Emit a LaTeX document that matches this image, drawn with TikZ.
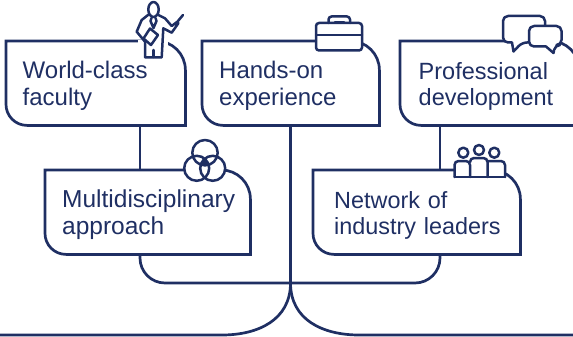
\documentclass[tikz,border=0pt]{standalone}
\usepackage{fontspec}
\setmainfont{Liberation Sans}
\definecolor{navy}{HTML}{1F2F63}
\tikzset{
  line/.style={draw=navy, line width=2.7pt},
  thin/.style={draw=navy, line width=2.5pt, line cap=round, line join=round},
  panel/.style={inner ysep=0pt, align=left, text=navy, anchor=north west,
    font=\fontsize{24}{26.5}\selectfont,
    execute at begin node={\rule{0pt}{23pt}}},
  icon/.style={thin, fill=white}
}
\newcommand{\outline}[2]{
  \draw[line] (#1.north west)
    [rounded corners=#2pt] -- (#1.north east)
    [sharp corners] -- (#1.south east)
    [rounded corners=21pt] -- (#1.south west)
    [sharp corners] -- cycle;
}
\begin{document}
\begin{tikzpicture}[x=1pt, y=-1pt]
  \useasboundingbox (0,0) rectangle (573,337);

  \node[panel, minimum height=84pt, text width=146pt, inner xsep=16.5pt] (faculty) at (6,41) {World-class\\faculty};
  \node[panel, minimum height=84pt, text width=143pt, inner xsep=17pt] (handson) at (202,41) {Hands-on\\experience};
  \node[panel, minimum height=84pt, text width=142pt, inner xsep=18.5pt, font=\fontsize{23.5}{26.5}\selectfont] (career) at (400,41) {Professional\\development};
  \node[panel, minimum height=84pt, text width=171pt, inner xsep=17pt, font=\fontsize{24.5}{26.5}\selectfont] (multi) at (45,170) {\mbox{Multidisciplinary}\\approach};
  \node[panel, minimum height=84pt, text width=165pt, inner xsep=21pt, font=\fontsize{23.4}{26.5}\selectfont] (network) at (313,170) {Network of\\\mbox{industry leaders}};

  \coordinate (joint) at (290.5,283);
  \coordinate (baseL) at (0,335);
  \coordinate (baseR) at (573,335);
  \coordinate (curveL) at (222,335);
  \coordinate (curveR) at (359,335);

  \outline{faculty}{29}
  \outline{handson}{29}
  \outline{career}{29}
  \outline{multi}{29}
  \outline{network}{29}

  \draw[line] (handson.south -| joint) -- (joint);
  \draw[line] (faculty.south -| 140,0) -- (multi.north -| 140,0);
  \draw[line] (career.south -| 440,0) -- (network.north -| 440,0);
  \draw[line, rounded corners=25pt] (multi.south -| 140,0) -- (140,283) -- (joint);
  \draw[line, rounded corners=25pt] (network.south -| 440,0) -- (440,283) -- (joint);
  \draw[line] (baseL) -- (curveL) .. controls (258,335) and (290.5,320) .. (joint);
  \draw[line] (baseR) -- (curveR) .. controls (323,335) and (290.5,320) .. (joint);

  \fill[white] (138,40) rectangle (168,60);
  \draw[icon] (148,15) -- (141.7,20) -- (136.7,31.7) -- (145,41.7) -- (145,57.3) -- (161.7,57.3) -- (163.3,28.3) -- (171.7,32.7) -- (178.3,23.3) -- (177.3,21.7) -- (171.7,26) -- (165,18.3) -- (158.3,15) -- cycle;
  \draw[thin] (178,21) -- (183,15);
  \draw[thin] (153.5,50) -- (153.5,57);
  \draw[thin] (151.5,18) -- (150.5,21) -- (153.5,28) -- (156.5,21) -- (155.5,18);
  \draw[icon] (153.5,9.5) ellipse (5.2 and 7.5);
  \draw[icon] (150,28.5) -- (158,35) -- (151,45) -- (143.5,38.5) -- cycle;

  \draw[icon, rounded corners=3pt] (316,23) rectangle (362,50.5);
  \draw[thin] (316,35) -- (362,35);
  \draw[thin, rounded corners=3pt] (328.5,23) -- (328.5,16.5) -- (350,16.5) -- (350,23);
  \draw[thin] (335,22) -- (344,22);

  \draw[icon, rounded corners=5pt] (503,16) -- (545,16) -- (545,42.5) -- (522,42.5) [sharp corners] -- (513.5,51.5) -- (512,42.5) [rounded corners=5pt] -- (503,42.5) -- cycle;
  \draw[icon, rounded corners=5pt] (529,26) -- (561.5,26) -- (561.5,45) -- (555,45) [sharp corners] -- (553.5,53) -- (546,46.5) [rounded corners=5pt] -- (529,46.5) -- cycle;

  \fill[white] (184,150) rectangle (226,182);
  \begin{scope}
    \clip (205,152.7) circle (12.7);
    \clip (196.7,168.3) circle (12.5);
    \fill[navy] (212.7,168.3) circle (12.5);
  \end{scope}
  \draw[thin] (205,152.7) circle (12.7);
  \draw[thin] (196.7,168.3) circle (12.5);
  \draw[thin] (212.7,168.3) circle (12.5);

  \fill[white] (454,157) rectangle (505,178);
  \draw[thin, rounded corners=4pt] (454.5,177) -- (454.5,161) -- (470,161) -- (470,177);
  \draw[thin, rounded corners=4pt] (470,161) -- (470,158) -- (487.5,158) -- (487.5,177);
  \draw[thin, rounded corners=4pt] (487.5,161) -- (505,161) -- (505,177);
  \draw[thin] (454.5,177) -- (505,177);
  \draw[thin] (463.3,152.7) circle (5);
  \draw[thin] (479,150) circle (5);
  \draw[thin] (494.3,152.7) circle (5);
\end{tikzpicture}
\end{document}
